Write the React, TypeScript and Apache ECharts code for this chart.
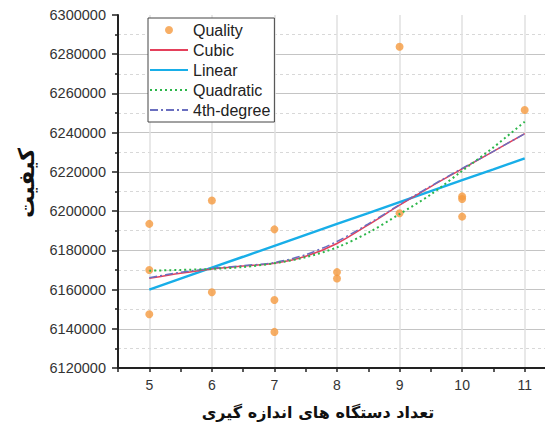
import React, { useEffect, useRef } from "react";
import * as echarts from "echarts";

const qualityX = [5, 5, 5, 6, 6, 7, 7, 7, 8, 8, 9, 9, 10, 10, 10, 11];
const qualityY = [
  6193500, 6170000, 6147400, 6205400, 6158600, 6190700, 6154700, 6138400,
  6168900, 6165600, 6283800, 6198900, 6207500, 6206200, 6197200, 6251600,
];

const fitX = [5, 5.5, 6, 6.5, 7, 7.5, 8, 8.5, 9, 9.5, 10, 10.5, 11];
const cubicY = [
  6165700, 6168300, 6170500, 6172000, 6173400, 6177000, 6183500, 6193000,
  6203000, 6212500, 6221500, 6230500, 6239500,
];
const linearY = [
  6160000, 6165600, 6171200, 6176700, 6182300, 6187900, 6193500, 6199000,
  6204600, 6210200, 6215800, 6221300, 6226900,
];
const quadraticY = [
  6169600, 6170000, 6170500, 6171500, 6173400, 6176500, 6181500, 6189000,
  6198500, 6208500, 6220500, 6232500, 6245600,
];
const quarticY = [
  6166000, 6168800, 6170800, 6172200, 6173800, 6177800, 6184500, 6193500,
  6203300, 6212800, 6221800, 6230500, 6239500,
];

const legendNames = ["Quality", "Cubic", "Linear", "Quadratic", "4th-degree"];
const xTitle = "تعداد دستگاه های اندازه گیری";
const yTitle = "کیفیت";

const pair = (xs: number[], ys: number[]) => xs.map((x, i) => [x, ys[i]]);

export default function App() {
  const ref = useRef<HTMLDivElement>(null);
  useEffect(() => {
    if (!ref.current) return;
    const chart = echarts.init(ref.current, undefined, { renderer: "svg" });
    const labelFont = "Liberation Sans";
    chart.setOption({
      animation: false,
      backgroundColor: "#fff",
      grid: { left: 118, top: 15, right: -3, bottom: 62, containLabel: false, outerBoundsMode: "none" },
      legend: {
        orient: "vertical",
        left: 148,
        top: 18,
        padding: [4, 4, 4, 1],
        itemWidth: 38,
        itemHeight: 8,
        itemGap: 4,
        backgroundColor: "#fff",
        borderColor: "#444",
        borderWidth: 1,
        textStyle: { fontSize: 16, color: "#222", fontFamily: labelFont },
        data: legendNames.map((n, i) =>
          i === 0 ? { name: n } : { name: n, itemStyle: { opacity: 0 } }
        ),
      },
      xAxis: [
        {
          type: "value",
          min: 4.5,
          max: 11.5,
          interval: 0.5,
          position: "bottom",
          axisLine: { show: true, onZero: false, lineStyle: { color: "#222", width: 2 } },
          axisTick: { show: true, length: 4, lineStyle: { color: "#222", width: 1.5 } },
          axisLabel: {
            formatter: (v: number) => (Number.isInteger(v) ? String(v) : ""),
            margin: 10,
            fontSize: 14,
            color: "#333",
            fontFamily: labelFont,
          },
          splitLine: { show: false },
        },
        {
          type: "value",
          min: 4.5,
          max: 11.5,
          splitNumber: 7,
          position: "top",
          axisLine: { show: false },
          axisTick: { show: false },
          axisLabel: { show: false },
          splitLine: { show: true, lineStyle: { color: "#e0e0e0", width: 1.5 } },
        },
      ],
      yAxis: {
        type: "value",
        min: 6120000,
        max: 6300000,
        interval: 20000,
        axisLine: { show: true, lineStyle: { color: "#222", width: 2 } },
        axisTick: { show: true, length: 6, lineStyle: { color: "#222", width: 1.5 } },
        minorTick: { show: true, splitNumber: 2, length: 3, lineStyle: { color: "#222", width: 1.5 } },
        axisLabel: {
          formatter: (v: number) => String(v),
          margin: 12,
          fontSize: 14.5,
          color: "#333",
          fontFamily: labelFont,
        },
        splitLine: { show: true, showMaxLine: false, lineStyle: { color: "#c4c4c4", width: 1 } },
        minorSplitLine: { show: true, lineStyle: { color: "#d8d8d8", type: [3, 3], width: 1 } },
      },
      series: [
        {
          name: "Quality",
          type: "scatter",
          data: pair(qualityX, qualityY),
          symbol: "circle",
          symbolSize: 8,
          itemStyle: { color: "#F59A3F" },
          z: 2,
        },
        {
          name: "Linear",
          type: "line",
          data: pair(fitX, linearY),
          symbol: "none",
          itemStyle: { color: "#18AEE8" },
          lineStyle: { color: "#18AEE8", width: 2.5 },
          z: 3,
        },
        {
          name: "Cubic",
          type: "line",
          data: pair(fitX, cubicY),
          symbol: "none",
          smooth: 0.3,
          itemStyle: { color: "#E4405B" },
          lineStyle: { color: "#E4405B", width: 1.5 },
          z: 4,
        },
        {
          name: "4th-degree",
          type: "line",
          data: pair(fitX, quarticY),
          symbol: "none",
          smooth: 0.3,
          itemStyle: { color: "#6A6FBF" },
          lineStyle: { color: "#6A6FBF", width: 1.5, type: [8, 3, 2, 3] },
          z: 5,
        },
        {
          name: "Quadratic",
          type: "line",
          data: pair(fitX, quadraticY),
          symbol: "none",
          smooth: 0.3,
          itemStyle: { color: "#2CB64A" },
          lineStyle: { color: "#2CB64A", width: 2, type: [2, 3] },
          z: 6,
        },
      ],
      graphic: [
        {
          type: "text",
          x: 318,
          y: 412,
          style: {
            text: xTitle,
            font: 'bold 16px "DejaVu Sans"',
            fill: "#111",
            align: "center",
            verticalAlign: "middle",
          },
        },
        {
          type: "text",
          x: 26,
          y: 183,
          rotation: Math.PI / 2,
          style: {
            text: yTitle,
            font: 'bold 22px "DejaVu Sans"',
            fill: "#111",
            align: "center",
            verticalAlign: "middle",
          },
        },
      ],
    });
    return () => chart.dispose();
  }, []);
  return <div ref={ref} style={{ width: 553, height: 430, margin: -8 }} />;
}
